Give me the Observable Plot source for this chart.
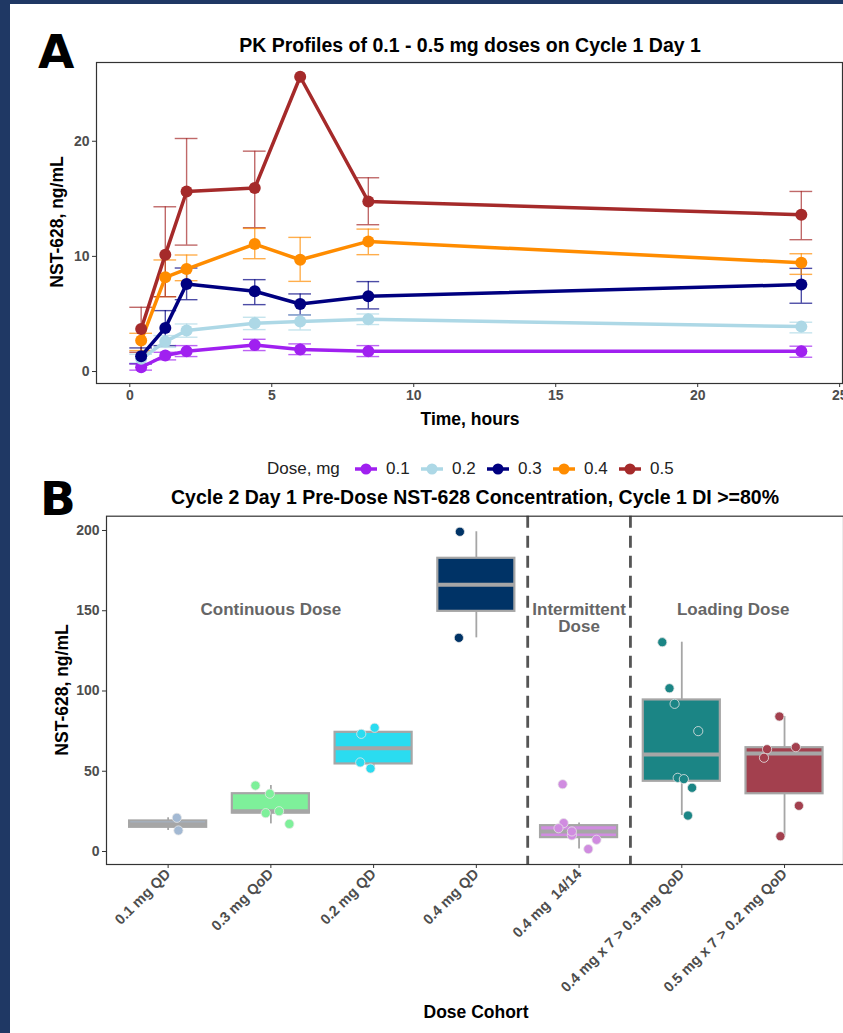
<!DOCTYPE html>
<html>
<head>
<meta charset="utf-8">
<script src="https://cdn.jsdelivr.net/npm/d3@7"></script>
<script src="https://cdn.jsdelivr.net/npm/@observablehq/plot@0.6"></script>
<style>
  body { margin: 0; background: #fff; }
  #page { position: relative; width: 843px; height: 1033px; background: #fff; overflow: hidden;
          font-family: "Liberation Sans", Arial, sans-serif; }
  .navTop { position: absolute; left: 0; top: 0; width: 843px; height: 4px; background: #1f3864; }
  .navLeft { position: absolute; left: 0; top: 0; width: 10px; height: 1033px; background: #1f3864; }
  .abs { position: absolute; white-space: nowrap; }
  .ctr { transform: translate(-50%, -50%); }
  .title { font-weight: bold; font-size: 19.5px; color: #000; }
  .axlab { font-weight: bold; font-size: 17.5px; color: #000; }
  .letter { font-weight: bold; font-size: 47px; color: #000; font-family: "DejaVu Sans", "Liberation Sans", sans-serif; }
  .plotbox { position: absolute; left: 0; }
  .legtxt { font-size: 17px; color: #222; }
</style>
</head>
<body>
<div id="page">
  <div class="navTop"></div>
  <div class="navLeft"></div>
  <div id="plotA" class="plotbox" style="top:0px"></div>
  <div id="plotB" class="plotbox" style="top:460px"></div>
  <div class="abs letter" style="left:38px; top:24px;">A</div>
  <div class="abs letter" style="left:40px; top:471px;">B</div>
  <div class="abs ctr title" style="left:470px; top:45px;">PK Profiles of 0.1 - 0.5 mg doses on Cycle 1 Day 1</div>
  <div class="abs ctr axlab" style="left:470px; top:419px;">Time, hours</div>
  <div class="abs ctr axlab" style="left:57px; top:222px; transform: translate(-50%,-50%) rotate(-90deg);">NST-628, ng/mL</div>
  <div class="abs ctr title" style="left:475px; top:497px;">Cycle 2 Day 1 Pre-Dose NST-628 Concentration, Cycle 1 DI &gt;=80%</div>
  <div class="abs ctr axlab" style="left:62px; top:690px; transform: translate(-50%,-50%) rotate(-90deg);">NST-628, ng/mL</div>
  <div class="abs ctr axlab" style="left:476px; top:1012px;">Dose Cohort</div>
</div>
<script>
// ---------------- Panel A data ----------------
const times = [0.4, 1.25, 2, 4.4, 6, 8.4, 23.65];
const doses = ["0.1", "0.2", "0.3", "0.4", "0.5"];
const doseColors = ["#a020f0", "#add8e6", "#000080", "#ff8c00", "#a52a2a"];

const mean01 = [0.37, 1.39, 1.76, 2.31, 1.91, 1.76, 1.76];
const lo01   = [0.12, 1.01, 1.30, 1.82, 1.47, 1.30, 1.24];
const hi01   = [0.67, 1.67, 2.25, 2.80, 2.40, 2.25, 2.20];

const mean02 = [1.10, 2.60, 3.56, 4.19, 4.34, 4.54, 3.90];
const lo02   = [0.75, 2.10, 2.98, 3.64, 3.61, 4.08, 3.36];
const hi02   = [1.50, 3.12, 4.13, 4.71, 4.92, 5.00, 4.28];

const mean03 = [1.33, 3.79, 7.60, 6.97, 5.87, 6.53, 7.55];
const lo03   = [0.67, 2.25, 6.24, 5.81, 4.92, 5.44, 5.93];
const hi03   = [2.05, 5.29, 8.99, 7.98, 6.74, 7.81, 8.96];

const mean04 = [2.69, 8.18, 8.90, 11.07, 9.71, 11.30, 9.45];
const lo04   = [1.82, 6.50, 7.89, 9.80, 7.83, 10.15, 8.44];
const hi04   = [3.32, 9.69, 10.12, 12.43, 11.65, 12.37, 10.23];

const mean05 = [3.70, 10.15, 15.64, 15.93, 25.60, 14.77, 13.62];
const lo05   = [1.67, 6.50, 10.98, 12.49, null, 12.75, 11.45];
const hi05   = [5.58, 14.31, 20.24, 19.14, null, 16.83, 15.64];

const xTicksA = [0, 5, 10, 15, 20, 25];
const yTicksA = [0, 10, 20];

// ---------------- Panel B data ----------------
const cohorts = ["0.1 mg QD", "0.3 mg QoD", "0.2 mg QD", "0.4 mg QD", "0.4 mg  14/14",
                 "0.4 mg x 7 > 0.3 mg QoD", "0.5 mg x 7 > 0.2 mg QoD"];
const cohortColors = ["#a3b9d3", "#7ef09a", "#2adcf0", "#003366", "#d08ce0", "#1b8585", "#a3404e"];
const conc1 = [21.0, 13.1];
const conc2 = [41.1, 36.0, 23.9, 25.1, 17.2];
const conc3 = [77.1, 73.3, 55.5, 51.7];
const conc4 = [199.2, 133.1];
const conc5 = [41.9, 17.7, 14.5, 10.0, 12.5, 7.3, 1.5];
const conc6 = [130.4, 101.7, 92.0, 75.0, 45.9, 45.1, 39.7, 22.4];
const conc7 = [84.1, 63.7, 65.0, 58.4, 28.5, 9.5];
// horizontal jitter of each point, in category units
const jit1 = [0.085, 0.10];
const jit2 = [-0.15, -0.01, -0.05, 0.08, 0.18];
const jit3 = [0.01, -0.12, -0.13, -0.03];
const jit4 = [-0.16, -0.17];
const jit5 = [-0.16, -0.15, -0.20, -0.07, -0.07, 0.17, 0.09];
const jit6 = [-0.19, -0.12, -0.07, 0.16, -0.04, 0.02, 0.10, 0.06];
const jit7 = [-0.05, -0.17, 0.11, -0.20, 0.14, -0.04];
const dividers = [4.5, 5.5];
const groupLabels = ["Continuous Dose", "Intermittent\nDose", "Loading Dose"];
const groupLabelX = [2, 5, 6.5];
const yTicksB = [0, 50, 100, 150, 200];

// ---------------- Panel A ----------------
const meansA = [mean01, mean02, mean03, mean04, mean05];
const losA = [lo01, lo02, lo03, lo04, lo05];
const hisA = [hi01, hi02, hi03, hi04, hi05];
const recA = [];
doses.forEach((d, k) => times.forEach((t, i) =>
  recA.push({dose: d, t, v: meansA[k][i], lo: losA[k][i], hi: hisA[k][i]})));
const errA = recA.filter(r => r.lo != null);
const capHalf = 0.4;

const axisStyle = {fontFamily: "'Liberation Sans', Arial, sans-serif", fontWeight: "bold",
                   background: "transparent", overflow: "visible"};

const plotA = Plot.plot({
  width: 843, height: 440,
  marginLeft: 96, marginRight: 1, marginTop: 62, marginBottom: 57,
  style: {...axisStyle, fontSize: "14px"},
  x: {domain: [-1.173, 25.1]},
  y: {domain: [-1.04, 26.84]},
  color: {domain: doses, range: doseColors},
  marks: [
    Plot.ruleX(errA, {x: "t", y1: "lo", y2: "hi", stroke: "dose", strokeWidth: 1.4, strokeOpacity: 0.7}),
    Plot.ruleY(errA, {y: "lo", x1: d => d.t - capHalf, x2: d => d.t + capHalf, stroke: "dose", strokeWidth: 1.4, strokeOpacity: 0.7}),
    Plot.ruleY(errA, {y: "hi", x1: d => d.t - capHalf, x2: d => d.t + capHalf, stroke: "dose", strokeWidth: 1.4, strokeOpacity: 0.7}),
    Plot.line(recA, {x: "t", y: "v", z: "dose", stroke: "dose", strokeWidth: 3.5}),
    Plot.dot(recA, {x: "t", y: "v", fill: "dose", r: 6}),
    Plot.frame({stroke: "#333", strokeWidth: 1.2}),
    Plot.axisX({ticks: xTicksA, tickSize: 4, tickPadding: 3, fill: "#4d4d4d", stroke: "#333", label: null}),
    Plot.axisY({ticks: yTicksA, tickSize: 4, tickPadding: 3, fill: "#4d4d4d", stroke: "#333", label: null})
  ]
});
document.getElementById("plotA").appendChild(plotA);

// ---------------- Legend ----------------
const page = d3.select("#page");
page.append("div").attr("class", "abs legtxt")
  .style("left", "267px").style("top", "459px").text("Dose, mg");
const legendX = d3.scalePoint().domain(doses).range([366, 630]);
doses.forEach((d, k) => {
  const cx = legendX(d);
  const s = page.append("svg").attr("class", "abs")
    .style("left", (cx - 12) + "px").style("top", "461px")
    .attr("width", 24).attr("height", 16);
  s.append("line").attr("x1", 1).attr("x2", 23).attr("y1", 8).attr("y2", 8)
    .attr("stroke", doseColors[k]).attr("stroke-width", 3.5);
  s.append("circle").attr("cx", 12).attr("cy", 8).attr("r", 5.5).attr("fill", doseColors[k]);
  page.append("div").attr("class", "abs legtxt")
    .style("left", (cx + 20) + "px").style("top", "459px").text(d);
});

// ---------------- Panel B ----------------
const concs = [conc1, conc2, conc3, conc4, conc5, conc6, conc7];
const jits = [jit1, jit2, jit3, jit4, jit5, jit6, jit7];
const boxes = cohorts.map((c, i) => {
  const v = concs[i].slice().sort(d3.ascending);
  const q1 = d3.quantile(v, 0.25), med = d3.quantile(v, 0.5), q3 = d3.quantile(v, 0.75);
  const iqr = q3 - q1;
  const lw = d3.min(v.filter(x => x >= q1 - 1.5 * iqr));
  const hw = d3.max(v.filter(x => x <= q3 + 1.5 * iqr));
  return {pos: i + 1, cohort: c, q1, med, q3, lw, hw, color: cohortColors[i]};
});
const ptsB = [];
concs.forEach((arr, i) => arr.forEach((v, j) =>
  ptsB.push({pos: i + 1 + jits[i][j], v, color: cohortColors[i]})));
const half = 0.375;
const labelsB = groupLabels.map((t, i) => ({x: groupLabelX[i], t}));

const plotB = Plot.plot({
  width: 843, height: 573,
  marginLeft: 106, marginRight: 0, marginTop: 55.7, marginBottom: 169,
  style: {...axisStyle, fontSize: "14px"},
  x: {domain: [0.4, 7.574]},
  y: {domain: [-8.1, 208.9]},
  marks: [
    Plot.ruleX(dividers, {x: d => d, stroke: "#555", strokeWidth: 2.8, strokeDasharray: "12,8"}),
    Plot.ruleX(boxes, {x: "pos", y1: "lw", y2: "q1", stroke: "#a6a6a6", strokeWidth: 1.8}),
    Plot.ruleX(boxes, {x: "pos", y1: "q3", y2: "hw", stroke: "#a6a6a6", strokeWidth: 1.8}),
    Plot.rect(boxes, {x1: d => d.pos - half, x2: d => d.pos + half, y1: "q1", y2: "q3",
                      fill: d => d.color, stroke: "#a6a6a6", strokeWidth: 2.2}),
    Plot.ruleY(boxes, {y: "med", x1: d => d.pos - half, x2: d => d.pos + half, stroke: "#a6a6a6", strokeWidth: 4}),
    Plot.dot(ptsB, {x: "pos", y: "v", fill: d => d.color, stroke: "#e6e6e6", strokeWidth: 0.8, r: 4.6}),
    Plot.text(labelsB, {x: "x", y: 149, text: "t", fill: "#666", fontSize: 17, fontWeight: "bold",
                        lineHeight: 1.0, lineAnchor: "top", dy: -9}),
    Plot.frame({stroke: "#333", strokeWidth: 1.2}),
    Plot.axisX({ticks: [1, 2, 3, 4, 5, 6, 7], tickFormat: i => cohorts[i - 1], tickRotate: -45,
                tickSize: 4, tickPadding: 3, fill: "#4d4d4d", stroke: "#333", fontSize: 14.5, label: null}),
    Plot.axisY({ticks: yTicksB, tickSize: 4, tickPadding: 3, fill: "#4d4d4d", stroke: "#333", label: null})
  ]
});
document.getElementById("plotB").appendChild(plotB);
</script>
</body>
</html>
